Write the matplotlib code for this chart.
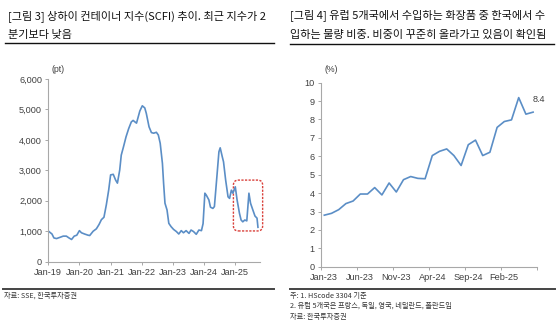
import pandas as pd
import matplotlib
matplotlib.use("Agg")
import matplotlib.pyplot as plt
import matplotlib.dates as mdates
from matplotlib.lines import Line2D
from matplotlib.patches import FancyBboxPatch

plt.rcParams['font.family'] = ['Liberation Sans', 'Noto Sans CJK KR']

# ---- data: SCFI (pt)
scfi_dates = [
    "2019-01-04", "2019-02-13", "2019-03-08", "2019-04-08", "2019-05-18", "2019-06-25",
    "2019-08-01", "2019-09-01", "2019-10-01", "2019-11-01", "2019-12-01", "2020-01-01",
    "2020-01-25", "2020-03-01", "2020-04-12", "2020-05-01", "2020-06-10", "2020-07-18",
    "2020-08-18", "2020-09-15", "2020-10-15", "2020-11-12", "2020-12-10", "2021-01-01",
    "2021-02-01", "2021-03-01", "2021-03-22", "2021-04-18", "2021-05-06", "2021-06-01",
    "2021-07-01", "2021-08-01", "2021-09-01", "2021-09-22", "2021-11-01", "2021-12-10",
    "2022-01-08", "2022-02-06", "2022-02-24", "2022-03-28", "2022-04-25", "2022-05-22",
    "2022-06-22", "2022-07-15", "2022-08-06", "2022-09-01", "2022-09-15", "2022-10-01",
    "2022-10-25", "2022-11-15", "2022-12-12", "2023-01-10", "2023-02-12", "2023-03-12",
    "2023-04-10", "2023-05-06", "2023-06-06", "2023-07-10", "2023-08-03", "2023-09-01",
    "2023-10-03", "2023-11-03", "2023-12-03", "2023-12-22", "2024-01-12", "2024-01-28",
    "2024-02-28", "2024-03-18", "2024-04-15", "2024-05-03", "2024-06-01", "2024-06-25",
    "2024-07-10", "2024-08-03", "2024-08-18", "2024-09-12", "2024-10-10", "2024-10-28",
    "2024-11-18", "2024-12-06", "2025-01-03", "2025-01-24", "2025-02-21", "2025-03-12",
    "2025-04-01", "2025-04-25", "2025-05-18", "2025-06-12", "2025-07-01", "2025-07-28",
    "2025-08-22", "2025-09-15", "2025-09-26",
]
scfi_values = [
    1000, 910, 780, 760, 800, 840,
    840, 780, 730, 840, 870, 1020,
    950, 910, 870, 860, 1000, 1080,
    1220, 1380, 1460, 1870, 2360, 2850,
    2870, 2680, 2580, 3010, 3500, 3770,
    4100, 4370, 4590, 4640, 4550, 4950,
    5120, 5050, 4870, 4430, 4240, 4220,
    4250, 4160, 3890, 3230, 2570, 1920,
    1700, 1260, 1150, 1060, 990, 910,
    1020, 950, 1020, 930, 1040, 990,
    900, 1040, 1020, 1250, 2250, 2190,
    2030, 1790, 1750, 1810, 2790, 3610,
    3740, 3450, 3280, 2680, 2130, 2080,
    2350, 2250, 2460, 2030, 1590, 1370,
    1310, 1370, 1340, 2250, 1920, 1700,
    1500, 1430, 1130,
]
highlight_span = ("2024-12-12", "2025-11-20")
highlight_range = (1010, 2680)

# ---- data: Korea share of cosmetics imports in 5 EU countries (%)
share_months = pd.date_range("2023-01-01", periods=30, freq="MS")
share_values = [
    2.8, 2.9, 3.1, 3.43, 3.57, 3.95, 3.95, 4.3, 3.9, 4.55,
    4.06, 4.73, 4.9, 4.8, 4.78, 6.04, 6.27, 6.4, 6.04, 5.5,
    6.63, 6.88, 6.04, 6.22, 7.57, 7.89, 7.98, 9.19, 8.29, 8.4,
]

W, H = 558, 325
fig = plt.figure(figsize=(W / 100, H / 100), dpi=100)


def fx(px):
    return px / W


def fy(py):
    return 1 - py / H


def hline(x0, x1, y, color, lw):
    fig.add_artist(Line2D([fx(x0), fx(x1)], [fy(y), fy(y)], color=color, lw=lw,
                          transform=fig.transFigure))


kr = ['Noto Sans CJK KR', 'DejaVu Sans']
title_kw = dict(fontsize=8.0, color='#111111', family=kr, va='center', ha='left')
note_kw = dict(fontsize=5.2, color='#333333', family=kr, va='center', ha='left')
line_color = '#5B8EC6'
spine_color = '#A8A8A8'
tick_color = '#404040'

# ---- titles and notes
fig.text(fx(8), fy(16), "[그림 3] 상하이 컨테이너 지수(SCFI) 추이. 최근 지수가 2", **title_kw)
fig.text(fx(8), fy(35), "분기보다 낮음", **title_kw)
hline(5, 274, 43, '#111111', 1.0)
hline(3, 274, 289.3, '#444444', 1.4)
fig.text(fx(4), fy(296), "자료: SSE, 한국투자증권", **note_kw)

fig.text(fx(290), fy(15), "[그림 4] 유럽 5개국에서 수입하는 화장품 중 한국에서 수", **title_kw)
fig.text(fx(290), fy(35), "입하는 물량 비중. 비중이 꾸준히 올라가고 있음이 확인됨", **title_kw)
hline(290, 554, 44.3, '#111111', 1.0)
hline(290, 555, 289.3, '#444444', 1.4)
fig.text(fx(290), fy(296), "주: 1. HScode 3304 기준", **note_kw)
fig.text(fx(290), fy(306), "2. 유럽 5개국은 프랑스, 독일, 영국, 네덜란드, 폴란드임", **note_kw)
fig.text(fx(290), fy(317), "자료: 한국투자증권", **note_kw)


def style_axes(ax):
    for s in ('top', 'right'):
        ax.spines[s].set_visible(False)
    for s in ('left', 'bottom'):
        ax.spines[s].set_color(spine_color)
        ax.spines[s].set_linewidth(0.8)
    ax.tick_params(axis='both', colors=spine_color, labelcolor=tick_color,
                   labelsize=6.6, length=2.5, width=0.7, pad=2)
    ax.patch.set_alpha(0)


# ---- left chart: SCFI
ax1 = fig.add_axes([fx(48.3), fy(261.7), fx(260) - fx(48.3), fy(79) - fy(261.7)])
style_axes(ax1)
d = pd.to_datetime(scfi_dates)
ax1.plot(d, scfi_values, color=line_color, lw=1.2)
ax1.set_ylim(0, 6000)
ax1.set_yticks(range(0, 6001, 1000))
ax1.yaxis.set_major_formatter(plt.FuncFormatter(lambda v, p: f"{int(v):,}"))
ax1.set_xlim(pd.Timestamp("2019-01-01"), pd.Timestamp("2025-10-20"))
ax1.xaxis.set_major_locator(mdates.YearLocator())
ax1.xaxis.set_major_formatter(mdates.DateFormatter('%b-%y'))
ax1.text(fx(52) , fy(70), "(pt)", transform=fig.transFigure, fontsize=6.3,
         color=tick_color, va='center', ha='left')

# dashed rounded box around the recent period
x0 = mdates.date2num(pd.Timestamp(highlight_span[0]))
x1 = mdates.date2num(pd.Timestamp(highlight_span[1]))
y0, y1 = highlight_range
p0 = ax1.transData.transform((0, 0))
px_day = ax1.transData.transform((1, 0))[0] - p0[0]
px_pt = ax1.transData.transform((0, 1))[1] - p0[1]
box = FancyBboxPatch((x0, y0), x1 - x0, y1 - y0,
                     boxstyle=f"round,pad=0,rounding_size={5 / px_day}",
                     mutation_aspect=px_day / px_pt,
                     fill=False, edgecolor='#D9413B', lw=1.0,
                     linestyle=(0, (1.6, 1.0)), clip_on=False)
ax1.add_patch(box)

# ---- right chart: share (%)
ax2 = fig.add_axes([fx(320.7), fy(266.7), fx(536.7) - fx(320.7), fy(82.7) - fy(266.7)])
style_axes(ax2)
pos = list(range(len(share_values)))
ax2.plot(pos, share_values, color=line_color, lw=1.2)
ax2.set_ylim(0, 10)
ax2.set_yticks(range(0, 11))
ax2.set_xlim(-0.5, len(share_values) - 0.5)
ax2.set_xticks([i - 0.5 for i in range(0, len(share_values) + 1, 5)])
ax2.set_xticklabels([])
ax2.set_xticks(pos[::5], minor=True)
ax2.set_xticklabels([m.strftime('%b-%y') for m in share_months[::5]], minor=True)
ax2.tick_params(axis='x', which='minor', length=0, labelsize=6.6,
                labelcolor=tick_color, pad=4.5)
ax2.text(fx(331), fy(70), "(%)", transform=fig.transFigure, fontsize=6.3,
         color=tick_color, va='center', ha='center')
ax2.annotate(f"{share_values[-1]}", (pos[-1], share_values[-1]),
             xytext=(4, 6), textcoords='offset points', fontsize=6.6,
             color=tick_color, ha='center', va='bottom', annotation_clip=False)

fig.savefig("out.png", dpi=100)
